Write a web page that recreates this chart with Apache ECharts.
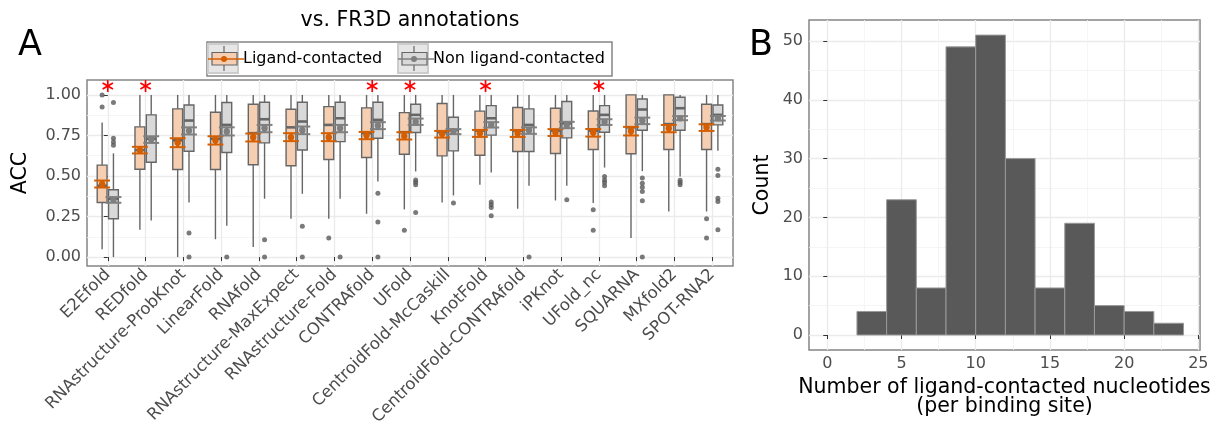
<!DOCTYPE html>
<html>
<head>
<meta charset="utf-8">
<title>ACC vs. FR3D annotations</title>
<script src="https://cdn.jsdelivr.net/npm/echarts@6/dist/echarts.min.js"></script>
<style>
  html, body { margin: 0; padding: 0; background: #fff; }
  #chart { width: 1216px; height: 431px; }
</style>
</head>
<body>
<div id="chart"></div>
<script>
// A: methods on the x axis
const methods = ['E2Efold', 'REDfold', 'RNAstructure-ProbKnot', 'LinearFold', 'RNAfold',
  'RNAstructure-MaxExpect', 'RNAstructure-Fold', 'CONTRAfold', 'UFold', 'CentroidFold-McCaskill',
  'KnotFold', 'CentroidFold-CONTRAfold', 'iPKnot', 'UFold_nc', 'SQUARNA', 'MXfold2', 'SPOT-RNA2']

// box: [q1, median, q3, whisker low, whisker high]
const ligandBox = [
  [0.337, 0.44, 0.567, 0.049, 0.83],
  [0.542, 0.66, 0.803, 0.168, 1.0],
  [0.54, 0.72, 0.914, 0.0, 1.0],
  [0.54, 0.73, 0.893, 0.11, 1.0],
  [0.569, 0.764, 0.942, 0.062, 1.0],
  [0.563, 0.80, 0.912, 0.236, 1.0],
  [0.602, 0.815, 0.928, 0.236, 1.0],
  [0.614, 0.764, 0.92, 0.267, 1.0],
  [0.634, 0.77, 0.891, 0.294, 1.0],
  [0.624, 0.77, 0.947, 0.337, 1.0],
  [0.628, 0.78, 0.90, 0.446, 1.0],
  [0.651, 0.78, 0.922, 0.298, 1.0],
  [0.639, 0.78, 0.918, 0.349, 1.0],
  [0.663, 0.78, 0.901, 0.333, 1.0],
  [0.637, 0.80, 1.0, 0.117, 1.0],
  [0.663, 0.82, 1.0, 0.281, 1.0],
  [0.663, 0.82, 0.942, 0.281, 1.0]
]
const nonLigandBox = [
  [0.236, 0.36, 0.415, 0.0, 0.64],
  [0.585, 0.73, 0.877, 0.226, 1.0],
  [0.653, 0.842, 0.938, 0.337, 1.0],
  [0.645, 0.815, 0.953, 0.193, 1.0],
  [0.704, 0.85, 0.955, 0.36, 1.0],
  [0.66, 0.836, 0.955, 0.39, 1.0],
  [0.712, 0.856, 0.955, 0.36, 1.0],
  [0.733, 0.846, 0.955, 0.466, 1.0],
  [0.768, 0.877, 0.942, 0.528, 1.0],
  [0.655, 0.784, 0.862, 0.38, 1.0],
  [0.752, 0.856, 0.934, 0.522, 1.0],
  [0.651, 0.815, 0.914, 0.44, 1.0],
  [0.735, 0.825, 0.959, 0.44, 1.0],
  [0.77, 0.877, 0.934, 0.552, 1.0],
  [0.782, 0.91, 0.975, 0.53, 1.0],
  [0.782, 0.918, 0.986, 0.497, 1.0],
  [0.815, 0.877, 0.938, 0.655, 1.0]
]

// mean with CI: [mean, low, high]
const ligandMean = [
  [0.45, 0.429, 0.472], [0.659, 0.639, 0.68], [0.706, 0.678, 0.733], [0.72, 0.694, 0.745],
  [0.739, 0.713, 0.762], [0.739, 0.715, 0.764], [0.739, 0.715, 0.764], [0.752, 0.727, 0.772],
  [0.747, 0.725, 0.77], [0.76, 0.737, 0.778], [0.764, 0.741, 0.784], [0.764, 0.741, 0.784],
  [0.768, 0.747, 0.789], [0.768, 0.743, 0.79], [0.778, 0.75, 0.803], [0.795, 0.77, 0.815],
  [0.80, 0.778, 0.819]
]
const nonLigandMean = [
  [0.353, 0.335, 0.37], [0.727, 0.704, 0.745], [0.78, 0.756, 0.80], [0.774, 0.75, 0.80],
  [0.795, 0.77, 0.815], [0.782, 0.758, 0.805], [0.795, 0.77, 0.815], [0.811, 0.789, 0.832],
  [0.834, 0.815, 0.854], [0.774, 0.758, 0.789], [0.815, 0.799, 0.832], [0.782, 0.76, 0.80],
  [0.815, 0.795, 0.834], [0.834, 0.815, 0.85], [0.842, 0.82, 0.86], [0.856, 0.844, 0.869],
  [0.856, 0.842, 0.87]
]

// outliers per method
const ligandOutliers = [
  [1.0, 0.926], [], [], [], [], [], [0.117], [], [0.166], [], [], [], [], [0.292, 0.166], [], [], [0.236, 0.117]
]
const nonLigandOutliers = [
  [0.953, 0.733, 0.71, 0.69], [], [0.148, 0], [0], [0.107, 0], [0.19, 0], [0], [0.394, 0.216, 0],
  [0.476, 0.462, 0.446, 0.275], [0.333], [0.339, 0.322, 0.306, 0.255], [0], [0.353],
  [0.497, 0.476, 0.46, 0.44], [0.487, 0.456, 0.43, 0.405, 0.347, 0], [0.474, 0.46, 0.446],
  [0.542, 0.503, 0.363, 0.343, 0.168]
]

// significant methods (red star)
const starred = [0, 1, 7, 8, 10, 13]
const starLevel = 1.055

const accTicks = [0, 0.25, 0.5, 0.75, 1]
const accMinor = [0.125, 0.375, 0.625, 0.875]

// B: histogram
const binStart = [2, 4, 6, 8, 10, 12, 14, 16, 18, 20, 22]
const binWidth = 2
const counts = [4, 23, 8, 49, 51, 30, 8, 19, 5, 4, 2]
const nucTicks = [0, 5, 10, 15, 20, 25]
const nucMinor = [2.5, 7.5, 12.5, 17.5, 22.5]
const countTicks = [0, 10, 20, 30, 40, 50]
const countMinor = [5, 15, 25, 35, 45]

const FONT = '"DejaVu Sans", sans-serif'
const ORANGE = '#d55e00'
const GREY = '#7f7f7f'
const PEACH = '#f6cfb3'
const LIGHT = '#d9d9d9'
const EDGE = '#666666'
const DODGE = 0.15
const BOX_W = 0.26
const CAP_W = 0.42

const majorLine = { show: true, lineStyle: { color: '#ebebeb', width: 1.3 } }
const minorLine = { show: true, lineStyle: { color: '#f3f3f3', width: 0.8 } }
const tickLabel = { color: '#4d4d4d', fontSize: 16, fontFamily: FONT }
const axisName = { color: '#000', fontSize: 20.5, fontFamily: FONT }

function renderBox (offset, fill) {
  return (params, api) => {
    const x = api.value(0) + offset
    const half = api.size([BOX_W, 0])[0] / 2
    const [cx, q1] = api.coord([x, api.value(1)])
    const med = api.coord([x, api.value(2)])[1]
    const q3 = api.coord([x, api.value(3)])[1]
    const lo = api.coord([x, api.value(4)])[1]
    const hi = api.coord([x, api.value(5)])[1]
    const line = { stroke: EDGE, lineWidth: 1.4 }
    return {
      type: 'group',
      children: [
        { type: 'line', shape: { x1: cx, y1: q1, x2: cx, y2: lo }, style: line },
        { type: 'line', shape: { x1: cx, y1: q3, x2: cx, y2: hi }, style: line },
        { type: 'rect', shape: { x: cx - half, y: q3, width: half * 2, height: q1 - q3 }, style: { fill, stroke: EDGE, lineWidth: 1.4 } },
        { type: 'line', shape: { x1: cx - half, y1: med, x2: cx + half, y2: med }, style: { stroke: EDGE, lineWidth: 2.6 } }
      ]
    }
  }
}

function renderMean (offset, color) {
  return (params, api) => {
    const x = api.value(0) + offset
    const half = api.size([CAP_W, 0])[0] / 2
    const [cx, m] = api.coord([x, api.value(1)])
    const lo = api.coord([x, api.value(2)])[1]
    const hi = api.coord([x, api.value(3)])[1]
    return {
      type: 'group',
      children: [
        { type: 'line', shape: { x1: cx, y1: lo, x2: cx, y2: hi }, style: { stroke: color, lineWidth: 3 } },
        { type: 'line', shape: { x1: cx - half, y1: lo, x2: cx + half, y2: lo }, style: { stroke: color, lineWidth: 2 } },
        { type: 'line', shape: { x1: cx - half, y1: hi, x2: cx + half, y2: hi }, style: { stroke: color, lineWidth: 2 } },
        { type: 'circle', shape: { cx, cy: m, r: 3.2 }, style: { fill: color } }
      ]
    }
  }
}

function renderStar (params, api) {
  const [cx, cy] = api.coord([api.value(0), api.value(1)])
  const r = 6
  const style = { stroke: '#ff0000', lineWidth: 1.7 }
  const spokes = [90, 30, -30].map(a => {
    const dx = r * Math.cos(a * Math.PI / 180)
    const dy = r * Math.sin(a * Math.PI / 180)
    return { type: 'line', shape: { x1: cx - dx, y1: cy - dy, x2: cx + dx, y2: cy + dy }, style }
  })
  return { type: 'group', children: spokes }
}

function renderBin (params, api) {
  const p0 = api.coord([api.value(0), 0])
  const p1 = api.coord([api.value(1), api.value(2)])
  return {
    type: 'rect',
    shape: { x: p0[0], y: p1[1], width: p1[0] - p0[0], height: p0[1] - p1[1] },
    style: { fill: '#595959', stroke: '#999999', lineWidth: 1 }
  }
}

const boxData = boxes => boxes.map((b, i) => [i, ...b])
const meanData = means => means.map((m, i) => [i, ...m])
const outlierData = (outs, offset) => outs.flatMap((vals, i) => vals.map(v => [i + offset, v]))

// legend key drawn with graphic
function legendKey (x, fill, color) {
  return [
    { type: 'rect', shape: { x, y: 44, width: 30, height: 29 }, style: { fill: '#e6e6e6', stroke: '#cccccc', lineWidth: 2 } },
    { type: 'line', shape: { x1: x + 16, y1: 46, x2: x + 16, y2: 71 }, style: { stroke: EDGE, lineWidth: 1.2 } },
    { type: 'rect', shape: { x: x + 4, y: 52.5, width: 25, height: 12.5 }, style: { fill, stroke: EDGE, lineWidth: 1.2 } },
    { type: 'line', shape: { x1: x, y1: 59, x2: x + 36, y2: 59 }, style: { stroke: color, lineWidth: 1.5 } },
    { type: 'circle', shape: { cx: x + 16, cy: 59, r: 3 }, style: { fill: color } }
  ]
}

const chart = echarts.init(document.getElementById('chart'), null, { renderer: 'canvas' })

chart.setOption({
  animation: false,
  backgroundColor: '#fff',
  textStyle: { fontFamily: FONT },
  grid: [
    { left: 87, top: 80, width: 646, height: 186, show: true, borderColor: '#858585', borderWidth: 1.5, backgroundColor: '#fff' },
    { left: 809, top: 20, width: 391, height: 330, show: true, borderColor: '#858585', borderWidth: 1.5, backgroundColor: '#fff' }
  ],
  xAxis: [
    {
      gridIndex: 0,
      type: 'value',
      min: -0.55,
      max: 16.55,
      axisLine: { show: false },
      axisTick: { show: true, length: 4, lineStyle: { color: '#333' }, customValues: methods.map((m, i) => i) },
      axisLabel: {
        ...tickLabel,
        fontSize: 16.5,
        rotate: 45,
        margin: 6,
        customValues: methods.map((m, i) => i),
        formatter: v => methods[v]
      },
      splitLine: majorLine
    },
    {
      gridIndex: 1,
      type: 'value',
      min: -1.23,
      max: 25.11,
      axisLine: { show: false },
      axisTick: { show: true, length: 4, lineStyle: { color: '#333' }, customValues: nucTicks },
      axisLabel: { ...tickLabel, margin: 6, customValues: nucTicks },
      splitLine: majorLine,
      name: 'Number of ligand-contacted nucleotides\n(per binding site)',
      nameLocation: 'middle',
      nameGap: 26,
      nameTextStyle: { ...axisName, lineHeight: 19 }
    },
    {
      gridIndex: 1,
      type: 'value',
      position: 'top',
      min: -1.23,
      max: 25.11,
      axisLine: { show: false },
      axisTick: { show: false, customValues: nucMinor },
      axisLabel: { show: false, customValues: nucMinor },
      splitLine: minorLine
    }
  ],
  yAxis: [
    {
      gridIndex: 0,
      type: 'value',
      min: -0.055,
      max: 1.092,
      axisLine: { show: false },
      axisTick: { show: true, length: 4, lineStyle: { color: '#333' }, customValues: accTicks },
      axisLabel: { ...tickLabel, margin: 6, customValues: accTicks, formatter: v => v.toFixed(2) },
      splitLine: majorLine,
      name: 'ACC',
      nameLocation: 'middle',
      nameGap: 56,
      nameTextStyle: axisName
    },
    {
      gridIndex: 0,
      type: 'value',
      position: 'right',
      min: -0.055,
      max: 1.092,
      axisLine: { show: false },
      axisTick: { show: false, customValues: accMinor },
      axisLabel: { show: false, customValues: accMinor },
      splitLine: minorLine
    },
    {
      gridIndex: 1,
      type: 'value',
      min: -2.55,
      max: 53.57,
      axisLine: { show: false },
      axisTick: { show: true, length: 4, lineStyle: { color: '#333' }, customValues: countTicks },
      axisLabel: { ...tickLabel, margin: 6, customValues: countTicks },
      splitLine: majorLine,
      name: 'Count',
      nameLocation: 'middle',
      nameGap: 36,
      nameTextStyle: axisName
    },
    {
      gridIndex: 1,
      type: 'value',
      position: 'right',
      min: -2.55,
      max: 53.57,
      axisLine: { show: false },
      axisTick: { show: false, customValues: countMinor },
      axisLabel: { show: false, customValues: countMinor },
      splitLine: minorLine
    }
  ],
  series: [
    {
      name: 'Ligand-contacted box',
      type: 'custom',
      xAxisIndex: 0,
      yAxisIndex: 0,
      renderItem: renderBox(-DODGE, PEACH),
      encode: { x: 0, y: [1, 2, 3, 4, 5] },
      data: boxData(ligandBox)
    },
    {
      name: 'Non ligand-contacted box',
      type: 'custom',
      xAxisIndex: 0,
      yAxisIndex: 0,
      renderItem: renderBox(DODGE, LIGHT),
      encode: { x: 0, y: [1, 2, 3, 4, 5] },
      data: boxData(nonLigandBox)
    },
    {
      name: 'Ligand-contacted outliers',
      type: 'scatter',
      xAxisIndex: 0,
      yAxisIndex: 0,
      clip: false,
      symbolSize: 5,
      itemStyle: { color: '#595959' },
      data: outlierData(ligandOutliers, -DODGE)
    },
    {
      name: 'Non ligand-contacted outliers',
      type: 'scatter',
      xAxisIndex: 0,
      yAxisIndex: 0,
      clip: false,
      symbolSize: 5,
      itemStyle: { color: '#595959' },
      data: outlierData(nonLigandOutliers, DODGE)
    },
    {
      name: 'Ligand-contacted mean',
      type: 'custom',
      xAxisIndex: 0,
      yAxisIndex: 0,
      renderItem: renderMean(-DODGE, ORANGE),
      encode: { x: 0, y: [1, 2, 3] },
      data: meanData(ligandMean)
    },
    {
      name: 'Non ligand-contacted mean',
      type: 'custom',
      xAxisIndex: 0,
      yAxisIndex: 0,
      renderItem: renderMean(DODGE, GREY),
      encode: { x: 0, y: [1, 2, 3] },
      data: meanData(nonLigandMean)
    },
    {
      name: 'Significant',
      type: 'custom',
      xAxisIndex: 0,
      yAxisIndex: 0,
      clip: false,
      renderItem: renderStar,
      encode: { x: 0, y: 1 },
      data: starred.map(i => [i, starLevel])
    },
    {
      name: 'Binding sites',
      type: 'custom',
      xAxisIndex: 1,
      yAxisIndex: 2,
      renderItem: renderBin,
      encode: { x: [0, 1], y: 2 },
      data: binStart.map((b, i) => [b, b + binWidth, counts[i]])
    }
  ],
  graphic: [
    { type: 'text', left: 18, top: 28, style: { text: 'A', font: '35px "DejaVu Sans", sans-serif', fill: '#000' } },
    { type: 'text', left: 749, top: 28, style: { text: 'B', font: '35px "DejaVu Sans", sans-serif', fill: '#000' } },
    { type: 'text', x: 410, y: 21, style: { text: 'vs. FR3D annotations', font: '20.5px "DejaVu Sans", sans-serif', fill: '#000', align: 'center', verticalAlign: 'middle' } },
    { type: 'rect', shape: { x: 207, y: 42, width: 405, height: 34 }, style: { fill: '#fff', stroke: '#858585', lineWidth: 1.5 } },
    ...legendKey(208, PEACH, ORANGE),
    ...legendKey(398, LIGHT, GREY),
    { type: 'text', x: 243, y: 59, style: { text: 'Ligand-contacted', font: '16px "DejaVu Sans", sans-serif', fill: '#000', verticalAlign: 'middle' } },
    { type: 'text', x: 433, y: 59, style: { text: 'Non ligand-contacted', font: '16px "DejaVu Sans", sans-serif', fill: '#000', verticalAlign: 'middle' } }
  ]
})
</script>
</body>
</html>
